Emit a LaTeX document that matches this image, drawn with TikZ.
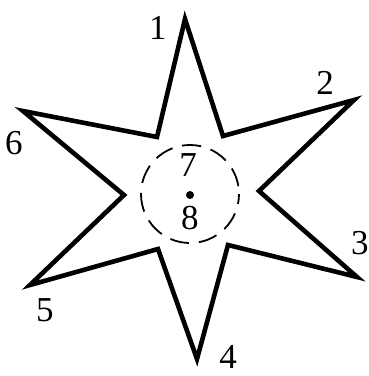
\documentclass[tikz,border=0pt]{standalone}
\usepackage{fontspec}
\setmainfont{Liberation Serif}
\usepackage{tikz}

\begin{document}
\begin{tikzpicture}[x=1pt,y=-1pt]
  \useasboundingbox (0,0) rectangle (369,376);
  \tikzset{
    numlbl/.style={font=\fontsize{35}{40}\selectfont,inner sep=0pt},
    starline/.style={line width=4.6pt,line join=miter,miter limit=12},
  }
  % outer tips and inner corners of the star
  \coordinate (t1) at (185,19);
  \coordinate (c12) at (223,136);
  \coordinate (t2) at (354,100);
  \coordinate (c23) at (259,191);
  \coordinate (t3) at (357,277);
  \coordinate (c34) at (228,245);
  \coordinate (t4) at (197,359);
  \coordinate (c45) at (158,249);
  \coordinate (t5) at (30,285);
  \coordinate (c56) at (124,195);
  \coordinate (t6) at (23,111);
  \coordinate (c61) at (157,137);
  \draw[starline] (t1) -- (c12) -- (t2) -- (c23) -- (t3) -- (c34)
    -- (t4) -- (c45) -- (t5) -- (c56) -- (t6) -- (c61) -- cycle;
  % centre: dashed circle and dot
  \coordinate (mid) at (190,195);
  \draw[line width=1.8pt,dash pattern=on 19pt off 10pt,dash phase=9pt]
    (190,194) circle [radius=49];
  \fill (mid) circle [radius=4];
  % numbers
  \node[numlbl] (n1) at (158,28) {1};
  \node[numlbl] (n2) at (325,83) {2};
  \node[numlbl] (n3) at (360,243) {3};
  \node[numlbl] (n4) at (228,357) {4};
  \node[numlbl] (n5) at (45,310) {5};
  \node[numlbl] (n6) at (14,143) {6};
  \node[numlbl] (n7) at (188,165) {7};
  \node[numlbl] (n8) at (190,218) {8};
\end{tikzpicture}
\end{document}
